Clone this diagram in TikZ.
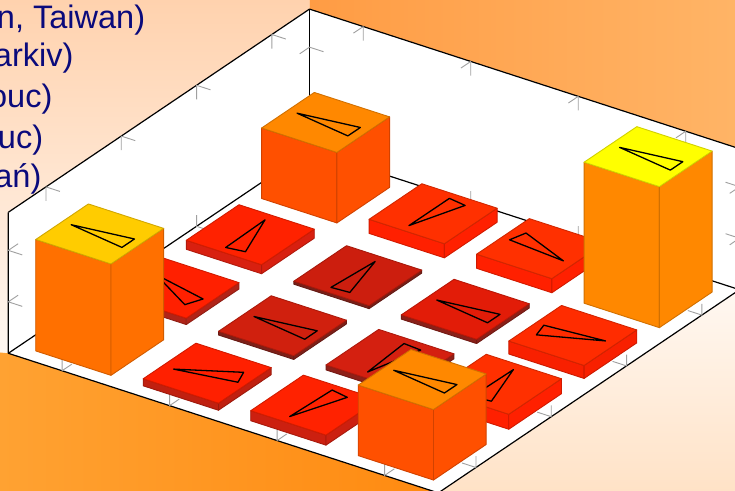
\documentclass[tikz,border=0pt]{standalone}
\usepackage{fontspec}
\newfontfamily\slidefont{Liberation Sans}
\usepackage{tikz}
\definecolor{slide navy}{HTML}{0A0A7C}
\definecolor{peach dark}{HTML}{FFD2AE}
\definecolor{peach light}{HTML}{FFF8F2}
\definecolor{corner peach}{HTML}{FFE2C6}
\definecolor{band left}{HTML}{FF9C44}
\definecolor{band right}{HTML}{FFB466}
\definecolor{stripe left}{HTML}{FFA232}
\definecolor{stripe right}{HTML}{FF8A10}
\definecolor{tick gray}{HTML}{A0A0A0}
\tikzset{boxline/.style={line width=0.6pt, line join=round}}
\tikzset{tickmark/.style={draw=tick gray, line width=0.45pt}}
\tikzset{face/.style={line width=0.45pt, line join=round}}
\tikzset{vane/.style={draw=black, line width=0.65pt, line join=round}}
\tikzset{place name/.style={text=slide navy, font=\slidefont\fontsize{16.25}{19.5}\selectfont, inner sep=0pt, anchor=base east}}

% one column of the chart: cell i, cell j, height, top colour, side colour, vane angle
\newcommand\colbar[6]{%
  \definecolor{bar top}{HTML}{#4}%
  \definecolor{bar side}{HTML}{#5}%
  \pgfmathsetmacro\barx{#1+0.5}%
  \pgfmathsetmacro\bary{#2+0.5}%
  \filldraw[face, fill=bar side, draw=bar side!82!black]
    ({\barx-0.35},{\bary-0.35},0) -- ({\barx+0.35},{\bary-0.35},0) -- ({\barx+0.35},{\bary-0.35},#3) -- ({\barx-0.35},{\bary-0.35},#3) -- cycle;
  \filldraw[face, fill=bar side, draw=bar side!82!black]
    ({\barx+0.35},{\bary-0.35},0) -- ({\barx+0.35},{\bary+0.35},0) -- ({\barx+0.35},{\bary+0.35},#3) -- ({\barx+0.35},{\bary-0.35},#3) -- cycle;
  \filldraw[face, fill=bar top, draw=bar top!82!black]
    ({\barx-0.35},{\bary-0.35},#3) -- ({\barx+0.35},{\bary-0.35},#3) -- ({\barx+0.35},{\bary+0.35},#3) -- ({\barx-0.35},{\bary+0.35},#3) -- cycle;
  \draw[vane] ({\barx+0.265*cos(#6)},{\bary+0.265*sin(#6)},#3)
    -- ({\barx-0.265*cos(#6)-0.083*sin(#6)},{\bary-0.265*sin(#6)+0.083*cos(#6)},#3)
    -- ({\barx-0.265*cos(#6)+0.083*sin(#6)},{\bary-0.265*sin(#6)-0.083*cos(#6)},#3) -- cycle;
}

\begin{document}
\begin{tikzpicture}[x=0.5pt, y=-0.5pt]
  \useasboundingbox (0,0) rectangle (735,491);
  \clip (0,0) rectangle (735,491);
  % slide background
  \shade[shading angle=34, top color=peach dark, bottom color=peach light]
    (0,0) -- (309.5,0) -- (309.5,9.1) -- (8.3,212.3) -- (8.3,353.3) -- (0,353.3) -- cycle;
  \shade[shading angle=34, top color=peach light, bottom color=corner peach]
    (438.7,493) -- (739.5,289.7) -- (739.5,493) -- cycle;
  \shade[left color=band left, right color=band right]
    (309.5,0) -- (735,0) -- (735,150) -- (309.5,9.1) -- cycle;
  \shade[left color=stripe left, right color=stripe right]
    (0,352.5) -- (8.3,353.3) -- (438.7,493) -- (0,493) -- cycle;

  \node[place name] (taiwan) at (145.5,29) {n, Taiwan)};
  \node[place name] (kharkiv) at (73.8,66.7) {arkiv)};
  \node[place name] (olomouc a) at (52.8,107.3) {ouc)};
  \node[place name] (olomouc b) at (43.5,148.6) {uc)};
  \node[place name] (poznan) at (41.8,187.3) {ań)};

  \begin{scope}[shift={(8.3,353.3)}, x={(53.75pt,-17.45pt)}, y={(37.65pt,25.4pt)}, z={(0pt,70.5pt)}]
    \fill[white] (0,0,0) -- (0,4,0) -- (0,4,1) -- (0,0,1) -- cycle;
    \fill[white] (0,4,0) -- (4,4,0) -- (4,4,1) -- (0,4,1) -- cycle;
    \fill[white] (0,0,0) -- (4,0,0) -- (4,4,0) -- (0,4,0) -- cycle;
    \draw[boxline] (0,0,1) -- (0,0,0) -- (4,0,0) -- (4,4,0);
    \draw[boxline] (0,0,0) -- (0,4,0) -- (4,4,0);
    \draw[boxline] (0,0,1) -- (0,4,1) -- (4,4,1) -- (4,4,0);
    \draw[boxline] (0,4,0) -- (0,4,1);

    \foreach \k in {0.5,1.5,2.5,3.5} {
      \draw[tickmark] (\k,0,0.08) -- (\k,0,0) -- (\k,0.13,0);
      \draw[tickmark] (4,\k,0.08) -- (4,\k,0) -- (3.87,\k,0);
      \draw[tickmark] (0,\k,0.08) -- (0,\k,0) -- (0.13,\k,0);
      \draw[tickmark] (\k,4,0.08) -- (\k,4,0) -- (\k,3.87,0);
      \draw[tickmark] (0,\k,0.9) -- (0,\k,1) -- (0.13,\k,1);
      \draw[tickmark] (\k,4,0.9) -- (\k,4,1) -- (\k,3.87,1);
    }
    \foreach \z in {0.365,0.73} {
      \draw[tickmark] (0.13,0,\z) -- (0,0,\z) -- (0,0.13,\z);
      \draw[tickmark] (0.13,4,\z) -- (0,4,\z) -- (0,3.87,\z);
      \draw[tickmark] (3.87,4,\z) -- (4,4,\z) -- (4,3.87,\z);
    }

    \foreach \ci/\cj/\ch/\ctop/\cside/\cang in {
        0/3/0.50/FF8800/FF5000/180, 0/2/0.064/FF2200/D82010/100,
        1/3/0.10/FF3000/FF2000/261, 0/1/0.045/FF2000/B02418/158,
        1/2/0.021/CC1E0E/7A2018/95, 2/3/0.10/FF3000/FF2000/346,
        0/0/0.79/FFCC00/FF7000/180, 1/1/0.026/D0200E/7E2018/180,
        2/2/0.03/E21C08/8A2018/180, 3/3/1.0/FFFF00/FF8800/180,
        1/0/0.05/FF2000/C02010/200, 2/1/0.035/D42010/8E2018/265,
        3/2/0.092/FF2C00/F82000/15, 2/0/0.071/FF2200/CC2010/259,
        3/1/0.106/FF3000/FF2000/98, 3/0/0.50/FF8800/FF5000/180}
      \colbar{\ci}{\cj}{\ch}{\ctop}{\cside}{\cang};
  \end{scope}
\end{tikzpicture}
\end{document}
